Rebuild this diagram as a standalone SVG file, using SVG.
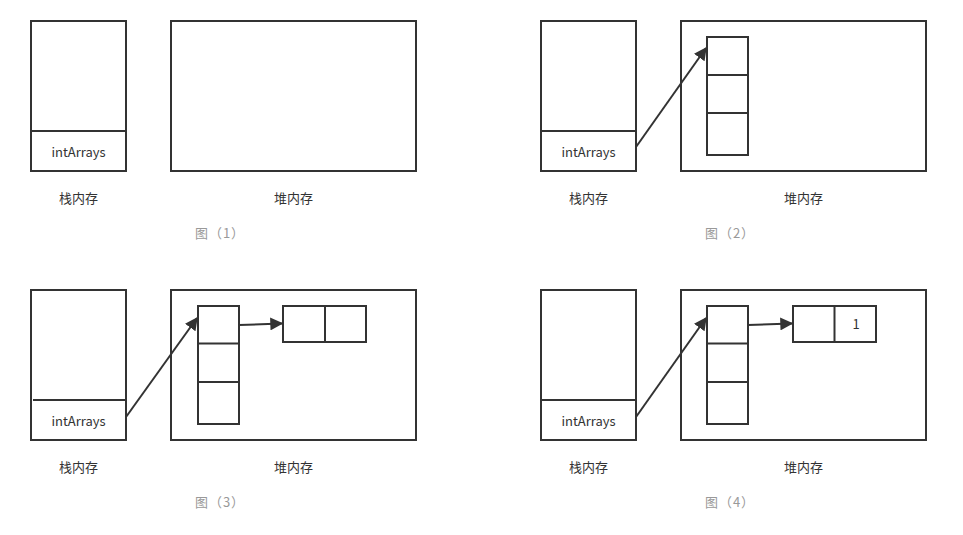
<svg xmlns="http://www.w3.org/2000/svg" width="963" height="535" viewBox="0 0 963 535">
<defs>
<style>
.box{fill:#fff;stroke:#333;stroke-width:2}
.ln{fill:none;stroke:#333;stroke-width:2}
.t{font-family:"Noto Sans CJK SC","Liberation Sans",sans-serif;font-size:13px;fill:#333;text-anchor:middle}
.cap{font-family:"Noto Sans CJK SC","Liberation Sans",sans-serif;font-size:13px;fill:#999;text-anchor:middle;letter-spacing:1px}
.arr{fill:none;stroke:#333;stroke-width:2;marker-end:url(#ah)}
</style>
<marker id="ah" viewBox="0 0 10 10" refX="9" refY="5" markerWidth="6.5" markerHeight="6.5" markerUnits="strokeWidth" orient="auto">
<path d="M0,0 L10,5 L0,10 Z" fill="#333"/>
</marker>
</defs>
<rect width="963" height="535" fill="#fff"/>

<!-- Panel 1 -->
<g id="p1-stack">
<rect class="box" x="31" y="21" width="95" height="150"/>
<line class="ln" x1="31" y1="131" x2="126" y2="131"/>
<text class="t" x="78.5" y="157">intArrays</text>
<text class="t" x="78.5" y="203">栈内存</text>
</g>
<g id="p1-heap">
<rect class="box" x="171" y="21" width="245" height="150"/>
<text class="t" x="293.5" y="203">堆内存</text>
</g>
<text class="cap" x="220" y="238">图（1）</text>

<!-- Panel 2 -->
<g id="p2-stack">
<rect class="box" x="541" y="21" width="95" height="150"/>
<line class="ln" x1="541" y1="131" x2="636" y2="131"/>
<text class="t" x="588.5" y="157">intArrays</text>
<text class="t" x="588.5" y="203">栈内存</text>
</g>
<g id="p2-heap">
<rect class="box" x="681" y="21" width="245" height="150"/>
<text class="t" x="803.5" y="203">堆内存</text>
</g>
<g id="p2-array">
<rect class="box" x="707" y="37" width="41" height="118"/>
<line class="ln" x1="707" y1="75" x2="748" y2="75"/>
<line class="ln" x1="707" y1="113" x2="748" y2="113"/>
</g>
<text class="cap" x="730" y="238">图（2）</text>

<!-- Panel 3 -->
<g id="p3-stack">
<rect class="box" x="31" y="290" width="95" height="150"/>
<line class="ln" x1="33" y1="400" x2="126" y2="400"/>
<text class="t" x="78.5" y="426">intArrays</text>
<text class="t" x="78.5" y="472">栈内存</text>
</g>
<g id="p3-heap">
<rect class="box" x="171" y="290" width="245" height="150"/>
<text class="t" x="293.5" y="472">堆内存</text>
</g>
<g id="p3-array">
<rect class="box" x="198" y="306" width="41" height="118"/>
<line class="ln" x1="198" y1="343.5" x2="239" y2="343.5"/>
<line class="ln" x1="198" y1="382" x2="239" y2="382"/>
</g>
<g id="p3-sub">
<rect class="box" x="283" y="306" width="83" height="36"/>
<line class="ln" x1="325" y1="306" x2="325" y2="342"/>
</g>
<text class="cap" x="220" y="507">图（3）</text>

<!-- Panel 4 -->
<g id="p4-stack">
<rect class="box" x="541" y="290" width="95" height="150"/>
<line class="ln" x1="541" y1="400" x2="636" y2="400"/>
<text class="t" x="588.5" y="426">intArrays</text>
<text class="t" x="588.5" y="472">栈内存</text>
</g>
<g id="p4-heap">
<rect class="box" x="681" y="290" width="245" height="150"/>
<text class="t" x="803.5" y="472">堆内存</text>
</g>
<g id="p4-array">
<rect class="box" x="707" y="306" width="41" height="118"/>
<line class="ln" x1="707" y1="343.5" x2="748" y2="343.5"/>
<line class="ln" x1="707" y1="382" x2="748" y2="382"/>
</g>
<g id="p4-sub">
<rect class="box" x="793" y="306" width="83" height="36"/>
<line class="ln" x1="834.5" y1="306" x2="834.5" y2="342"/>
<text class="t" x="856" y="329">1</text>
</g>
<text class="cap" x="730" y="507">图（4）</text>

<g id="connectors">
<line class="arr" x1="636" y1="147" x2="706" y2="48"/>
<line class="arr" x1="126" y1="417" x2="197" y2="318"/>
<line class="arr" x1="239" y1="325" x2="282" y2="323.5"/>
<line class="arr" x1="748" y1="325" x2="792" y2="323.5"/>
<line class="arr" x1="636" y1="417" x2="706" y2="318"/>
</g>
</svg>
